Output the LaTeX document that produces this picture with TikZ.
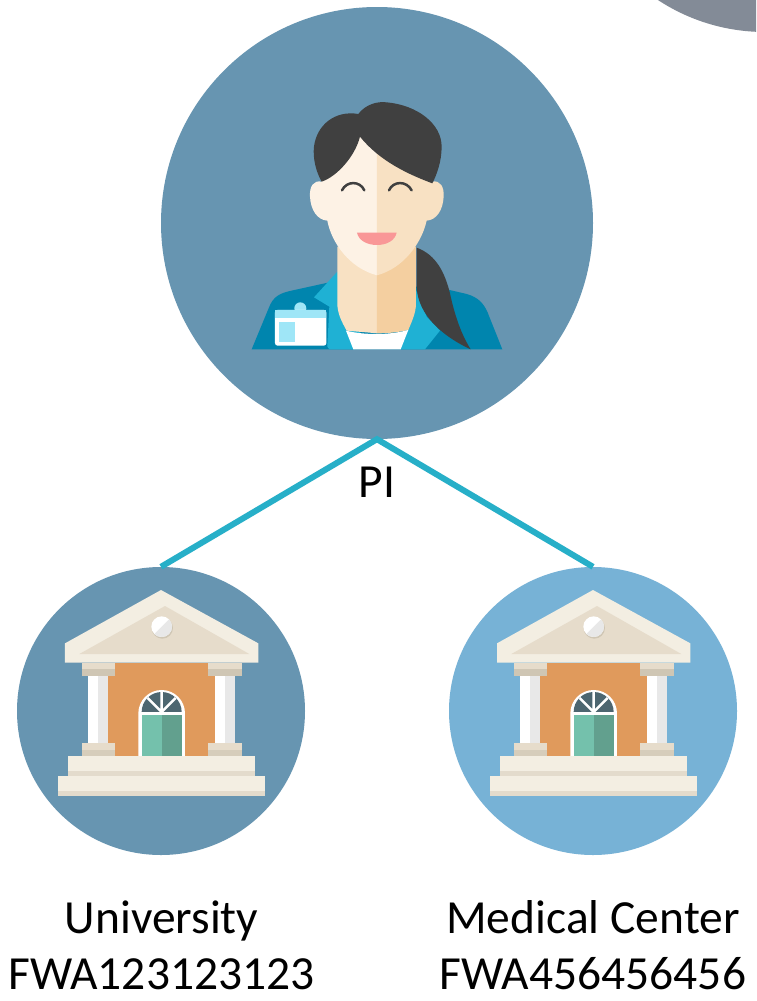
\documentclass[tikz,border=0pt]{standalone}
\usepackage{fontspec}
\setmainfont{Carlito}
\definecolor{steel}{HTML}{6795B1}
\definecolor{sky}{HTML}{77B2D6}
\definecolor{greyc}{HTML}{838B97}
\definecolor{linkc}{HTML}{27AFC8}
\definecolor{hair}{HTML}{404040}
\definecolor{faceL}{HTML}{FDF2E5}
\definecolor{faceR}{HTML}{F8E1C3}
\definecolor{neckR}{HTML}{F4CFA0}
\definecolor{jack}{HTML}{0085AE}
\definecolor{lapel}{HTML}{1FB1D4}
\definecolor{badge}{HTML}{9FE6F7}
\definecolor{lip}{HTML}{F99797}
\definecolor{cream}{HTML}{F3EEE2}
\definecolor{creamD}{HTML}{E3DBCC}
\definecolor{tymp}{HTML}{E6DCCB}
\definecolor{capD}{HTML}{CFC6B4}
\definecolor{brick}{HTML}{E09A5C}
\definecolor{doorL}{HTML}{74C1AC}
\definecolor{doorR}{HTML}{62A08E}
\definecolor{glass}{HTML}{4D6670}
\newcommand{\bankbuilding}{%
    \fill[cream] (333,30) -- (625,190) -- (625,248) -- (45,248) -- (45,190) -- cycle;
    \fill[tymp] (345,78) -- (598,222) -- (88,222) -- cycle;
    \fill[capD] (337,144) circle (32);
    \fill[white] (335,140) circle (31);
    \fill[black!9] (357,118) arc (-45:135:31) -- cycle;
    \fill[brick] (175,248) rectangle (495,530);
    \foreach \dx in {0,380}{
      \begin{scope}[shift={(\dx,0)}]
        \fill[tymp] (95,248) rectangle (195,268);
        \fill[capD] (95,268) rectangle (195,288);
        \fill[white] (115,288) rectangle (145,490);
        \fill[black!9] (145,288) rectangle (175,490);
        \fill[tymp] (95,490) rectangle (195,510);
        \fill[capD!70!tymp] (95,510) rectangle (195,528);
      \end{scope}
    }
    \fill[white] (265,530) -- (265,400) arc (180:360:70) -- (405,530) -- cycle;
    \fill[glass] (275,396) arc (180:360:60) -- cycle;
    \draw[white,line width=2.4pt] (335,396) -- (335,336) (335,396) -- (293,354) (335,396) -- (377,354);
    \fill[white] (275,396) rectangle (395,406);
    \fill[doorL] (275,406) rectangle (335,528);
    \fill[doorR] (335,406) rectangle (395,528);
    \fill[cream] (55,528) rectangle (615,587);
    \fill[creamD] (55,572) rectangle (615,587);
    \fill[cream] (25,587) rectangle (645,647);
    \fill[creamD] (25,632) rectangle (645,647);
}
\tikzset{
  x=1pt,y=-1pt,
  disc/.style={circle,inner sep=0pt,minimum size=#1,fill=steel},
  link/.style={draw=linkc,line width=6pt},
  lab/.style={font=\fontsize{47.5}{56}\selectfont,text=black,align=center,inner sep=0pt},
  third/.style={x=0.3333pt,y=-0.3333pt}
}
\begin{document}
\begin{tikzpicture}
\useasboundingbox (0,0) rectangle (756,1001);
\fill[white] (0,0) rectangle (756,1001);
\begin{scope}
  \clip (0,0) rectangle (756,1001);
  \fill[greyc] (765,-163) circle (195);
\end{scope}

\node[disc=432pt] (pi) at (377,223) {};
\node[disc=288pt] (uni) at (161,711) {};
\node[disc=288pt,fill=sky] (med) at (593,711) {};

\draw[link] (uni.north) -- (pi.south) -- (med.north);

\node[lab] (pilab) at (377,482) {PI};
\node[lab,text depth=0pt,anchor=south] (unilab) at (161.5,990) {University\\FWA123123123};
\node[lab,text depth=0pt,anchor=south] (medlab) at (593,990) {Medical Center\\FWA456456456};

% woman: zoom coordinates
\begin{scope}[shift={(240,90)},third]
  \fill[jack] (35,778) -- (88,650) .. controls (100,620) and (120,610) .. (150,603)
    -- (300,570) -- (620,598) -- (680,612) .. controls (715,622) and (730,640) .. (742,665) -- (787,778) -- cycle;
  \fill[lapel] (292,545) -- (222,622) -- (268,650) -- (262,770) -- (268,778) -- (345,778) -- (400,600) -- cycle;
  \fill[lapel] (528,600) -- (480,778) -- (555,778) -- (600,722) -- (560,680) -- cycle;
  \fill[faceR] (292,470) -- (292,640) .. controls (292,670) and (305,695) .. (320,722) -- (411,730) -- (411,470) -- cycle;
  \fill[neckR] (411,470) -- (528,470) -- (528,640) .. controls (528,670) and (515,695) .. (505,720) .. controls (470,728) and (440,730) .. (411,730) -- cycle;
  \fill[white] (318,722) .. controls (350,730) and (380,732) .. (411,732) .. controls (445,732) and (475,728) .. (505,720) -- (482,778) -- (340,778) -- cycle;
  % face
  \fill[faceL] (411,120) .. controls (320,130) and (262,190) .. (245,275)
    .. controls (220,270) and (208,290) .. (210,320)
    .. controls (212,360) and (232,390) .. (262,392)
    .. controls (275,460) and (330,535) .. (411,556) -- cycle;
  \fill[faceR] (411,120) .. controls (502,130) and (558,190) .. (577,275)
    .. controls (600,270) and (613,290) .. (611,320)
    .. controls (609,360) and (590,390) .. (560,392)
    .. controls (545,460) and (490,535) .. (411,556) -- cycle;
  % hair
  \fill[hair] (245,275) .. controls (228,245) and (218,205) .. (222,170)
    .. controls (230,105) and (285,60) .. (355,72)
    .. controls (375,45) and (410,33) .. (440,37)
    .. controls (530,45) and (605,100) .. (605,170)
    .. controls (605,215) and (590,255) .. (577,280)
    .. controls (510,255) and (420,215) .. (360,140)
    .. controls (345,200) and (290,260) .. (245,275) -- cycle;
  \fill[hair] (530,473) .. controls (590,495) and (615,550) .. (630,610)
    .. controls (645,680) and (665,735) .. (692,778)
    .. controls (620,745) and (530,680) .. (530,585) -- cycle;
  % eyes
  \draw[hair,line width=2.5pt,line cap=round] (306,301) .. controls (320,272) and (360,272) .. (373,301);
  \draw[hair,line width=2.5pt,line cap=round] (447,301) .. controls (460,272) and (500,272) .. (515,301);
  % mouth
  \fill[lip] (351,428) -- (470,428) .. controls (465,452) and (440,465) .. (411,465) .. controls (382,465) and (356,452) .. (351,428) -- cycle;
  % badge
  \fill[badge] (181,655) circle (18);
  \fill[white,rounded corners=2.5pt] (105,660) rectangle (259,767);
  \fill[badge] (105,660) rectangle (259,684);
  \fill[badge] (116,695) rectangle (164,755);
\end{scope}

% buildings
\begin{scope}[shift={(50,580)},third]\bankbuilding\end{scope}
\begin{scope}[shift={(482,580)},third]\bankbuilding\end{scope}
\end{tikzpicture}
\end{document}
